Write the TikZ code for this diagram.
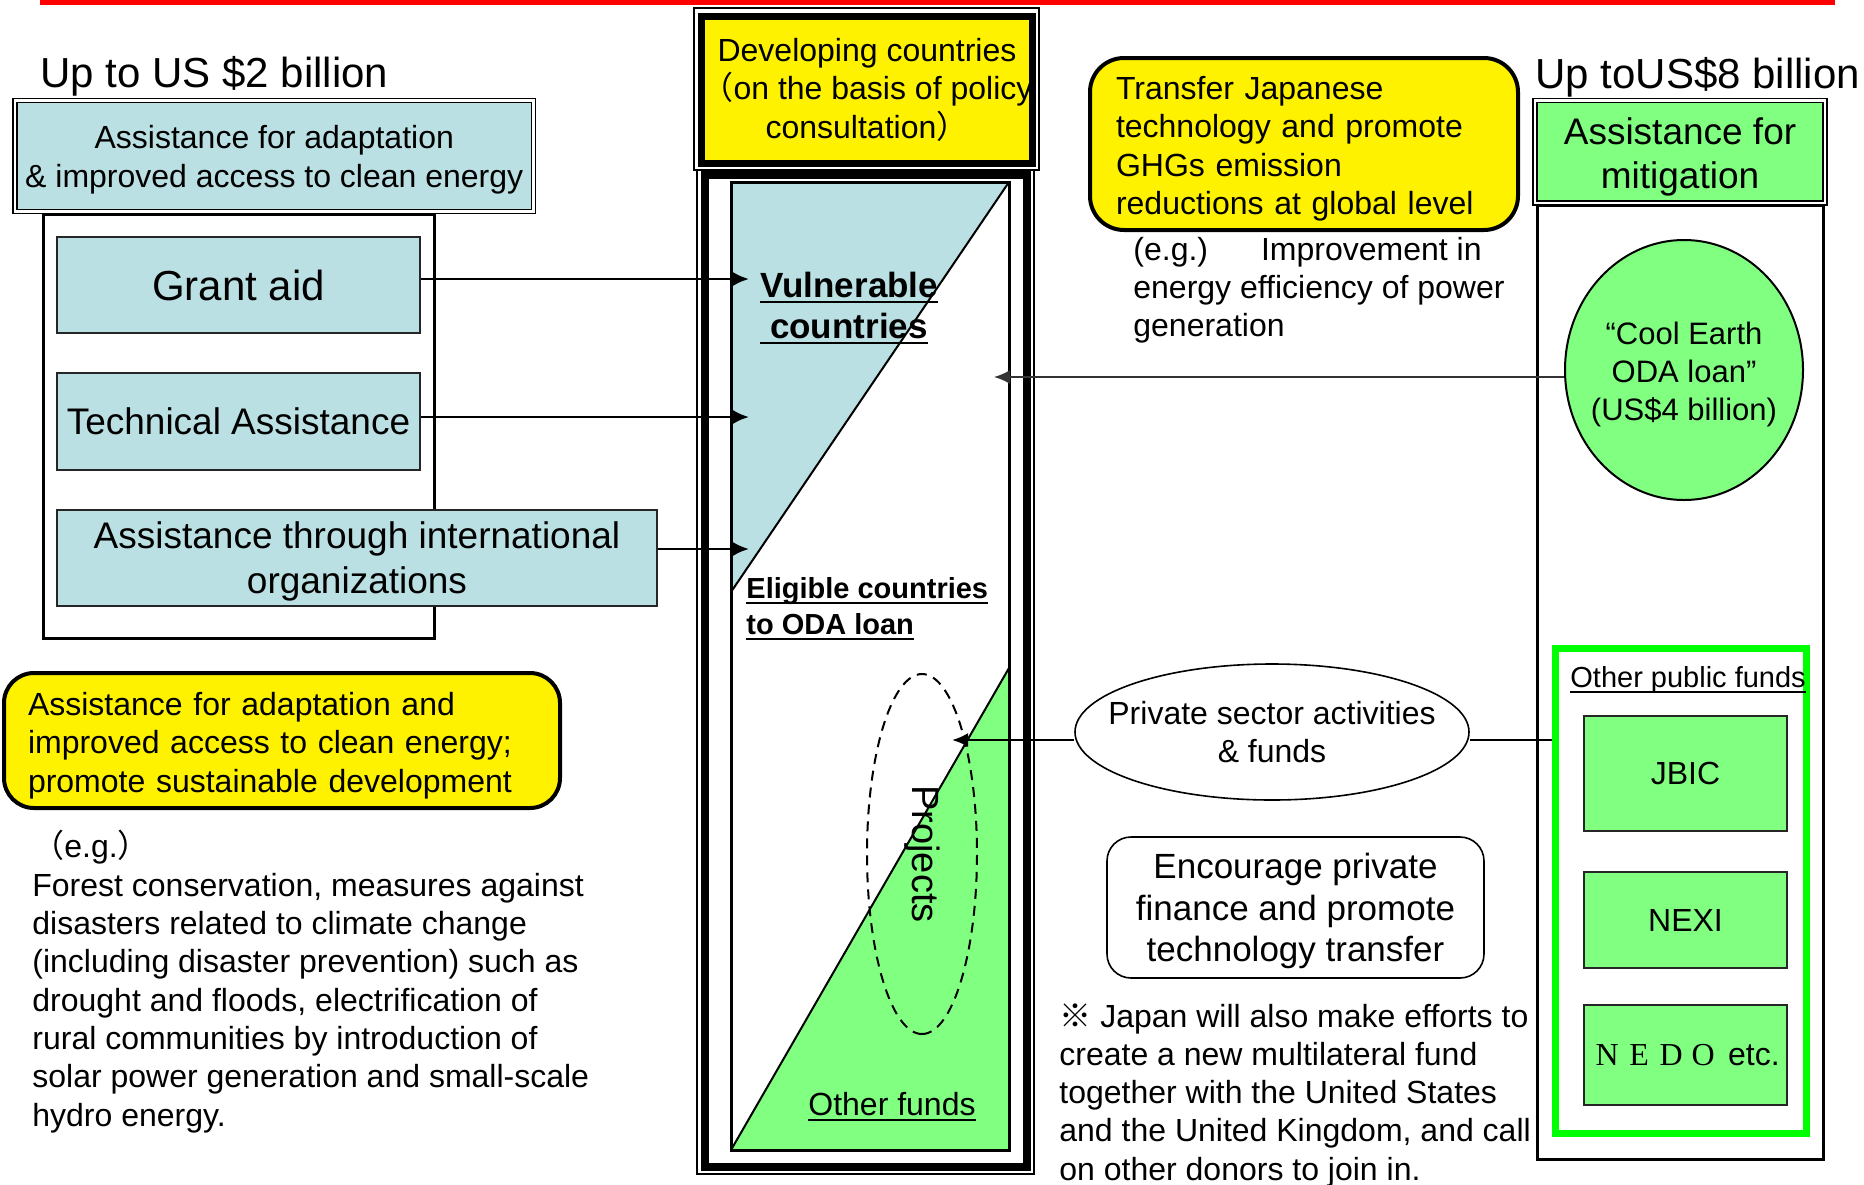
\documentclass[tikz,border=0pt]{standalone}
\usepackage{fontspec}
\setmainfont{Liberation Sans}
\newfontfamily\cjk{Noto Sans CJK JP}
\newfontfamily\nedofont{Liberation Serif}
\usetikzlibrary{shapes.geometric,arrows.meta}

\definecolor{adaptblue}{RGB}{187,224,227}
\definecolor{mitiggreen}{RGB}{128,255,128}
\definecolor{fundgreen}{RGB}{0,255,0}

\newcommand{\fsz}[2]{\fontsize{#1}{#2}\selectfont}
\newcommand{\wideletter}[1]{\makebox[16pt]{\nedofont #1}}
\newcommand{\uln}[1]{\setbox0\hbox{#1}\rlap{\rule[-3pt]{\wd0}{0.9pt}}\box0}
\newcommand{\padtop}[1]{\rule{0pt}{#1}}

\tikzset{
    bluebox/.style={draw=black!85, fill=adaptblue, line width=1pt, inner sep=0pt},
    greenbox/.style={draw=black!85, fill=mitiggreen, line width=1pt, inner sep=0pt},
    headbox/.style={draw=black, line width=0.8pt, double=white, double distance=1.2pt, inner sep=0pt},
    boxframe/.style={draw, line width=1.5pt, inner sep=0pt},
    notebox/.style={draw, fill=yellow, line width=2pt, rounded corners=15pt, inner sep=0pt, align=left},
    textonly/.style={inner sep=0pt, align=left},
    arr/.style={line width=1.2pt, -{Latex[length=8pt,width=7pt]}},
}

\begin{document}
\begin{tikzpicture}[x=0.5pt, y=-0.5pt, font=\fsz{16}{19.25}]
    \useasboundingbox (0,0) rectangle (1864,1184);
    \draw[red, line width=2.5pt] (40,2.5) -- (1835,2.5);

    \node[boxframe, minimum width=195.5pt, minimum height=212pt] (adaptFrame) at (238.5,426) {};
    \node[headbox, fill=adaptblue, minimum width=259.25pt, minimum height=55.5pt, align=center] (adaptHead) at (274.25,156) {\padtop{15.3pt}Assistance for adaptation\\\& improved access to clean energy};
    \node[anchor=base west, inner sep=0pt, font=\fsz{21}{25}] (adaptTitle) at (40,87) {Up to US \$2 billion};
    \node[bluebox, minimum width=181.5pt, minimum height=48pt, font=\fsz{21}{25}] (grant) at (238.5,285) {Grant aid};
    \node[bluebox, minimum width=181.5pt, minimum height=48.5pt, font=\fsz{18.5}{22}] (techAssist) at (238.5,421.5) {Technical Assistance};
    \node[bluebox, minimum width=300pt, minimum height=48pt, align=center, font=\fsz{18.5}{22.5}] (intlOrg) at (357,558) {\padtop{17.1pt}Assistance through international\\organizations};

    \node[notebox, minimum width=278pt, minimum height=67.5pt, text width=254pt] (adaptNote) at (282,740.5) {\padtop{16.5pt}Assistance for adaptation and\\improved access to clean energy;\\promote sustainable development};
    \node[anchor=base west, textonly, font=\fsz{16}{19.15}] (adaptExample) at (32,1126) {{\cjk （}e.g.{\cjk ）}\\Forest conservation, measures against\\disasters related to climate change\\(including disaster prevention) such as\\drought and floods, electrification of\\rural communities by introduction of\\solar power generation and small-scale\\hydro energy.};

    \node[draw, line width=0.6pt, minimum width=168.5pt, minimum height=502pt, inner sep=0pt] (colRim) at (865.5,672) {};
    \node[draw, line width=4pt, minimum width=161.25pt, minimum height=496pt, inner sep=0pt] (colFrame) at (865.75,671) {};
    \fill[adaptblue] (731,182) -- (1009,182) -- (731,592) -- cycle;
    \fill[mitiggreen] (1009,668) -- (1009,1150) -- (731,1150) -- cycle;
    \draw[line width=1pt] (1009,182) -- (731,592);
    \draw[line width=1pt] (1009,668) -- (731,1150);
    \node[draw, line width=1.5pt, minimum width=139pt, minimum height=484pt, inner sep=0pt] (eligible) at (870,666) {};

    \node[draw, line width=0.6pt, minimum width=172.5pt, minimum height=81pt, inner sep=0pt] (devRim) at (866.5,89) {};
    \node[draw, fill=yellow, line width=3.5pt, minimum width=165.25pt, minimum height=73.5pt, inner sep=0pt] (devBox) at (867,89.5) {};
    \node[inner sep=0pt, align=center] (devText) at (867,89.5) {Developing countries\\{\cjk （}on the basis of policy\\consultation{\cjk ）}};

    \node[anchor=base west, textonly, font=\bfseries\fsz{17.5}{20.5}] (vulnText) at (760,338) {\uln{Vulnerable}\\\uln{\ countries}};
    \node[anchor=base west, textonly, font=\bfseries\fsz{14.5}{18}] (eligText) at (746,634) {\uln{Eligible countries}\\\uln{to ODA loan}};
    \node[anchor=base west, textonly] (otherFunds) at (808,1115) {\uln{Other funds}};
    \node[draw, dash pattern=on 5pt off 3.5pt, line width=1pt, ellipse, rotate=-90, minimum width=180pt, minimum height=55pt, inner sep=0pt, font=\fsz{19}{22}] (projects) at (922,854) {Projects};

    \node[notebox, minimum width=214pt, minimum height=86pt, text width=188pt, rounded corners=17pt] (transfer) at (1304,144) {\padtop{16.5pt}Transfer Japanese\\technology and promote\\GHGs emission\\reductions at global level};
    \node[anchor=base west, textonly, font=\fsz{16}{19}] (mitigExample) at (1133,336) {(e.g.)\hspace{26.5pt}Improvement in\\energy efficiency of power\\generation};

    \node[ellipse, draw, line width=0.8pt, minimum width=197pt, minimum height=68pt, inner sep=0pt] (private) at (1272,732) {};
    \node[inner sep=0pt, align=center] (privText) at (private.center) {Private sector activities\\\& funds};
    \node[draw, rounded corners=12pt, line width=0.8pt, minimum width=188.5pt, minimum height=70.5pt, inner sep=0pt, align=center, font=\fsz{17.5}{20.75}] (encourage) at (1295.5,907.5) {\padtop{16.4pt}Encourage private\\finance and promote\\technology transfer};
    \node[anchor=base west, textonly, font=\fsz{16}{19.1}] (jointFund) at (1059,1180) {{\cjk ※} Japan will also make efforts to\\create a new multilateral fund\\together with the United States\\and the United Kingdom, and call\\on other donors to join in.};

    \node[boxframe, minimum width=143pt, minimum height=477pt] (mitigFrame) at (1680,682) {};
    \node[headbox, fill=mitiggreen, minimum width=145pt, minimum height=51.25pt, align=center, font=\fsz{18.5}{22}] (mitigHead) at (1680,151.75) {\padtop{18.3pt}Assistance for\\mitigation};
    \node[anchor=base west, inner sep=0pt, font=\fsz{21}{25}] (mitigTitle) at (1535,88) {Up toUS\$8 billion};
    \node[ellipse, draw, fill=mitiggreen, line width=1pt, minimum width=119pt, minimum height=130pt, inner sep=0pt] (coolEarth) at (1684,370) {};
    \node[inner sep=0pt, align=center, font=\fsz{15.5}{19}, yshift=-2pt] (coolText) at (coolEarth.center) {“Cool Earth\\ODA loan”\\(US\$4 billion)};

    \node[draw=fundgreen, line width=3.5pt, minimum width=125.5pt, minimum height=242.5pt, inner sep=0pt] (pubFunds) at (1681,891) {};
    \node[anchor=base west, inner sep=0pt, font=\fsz{14.5}{17}] (pubTitle) at (1570,687) {\uln{Other public funds}};
    \node[greenbox, minimum width=101.5pt, minimum height=57.5pt] (jbic) at (1685.5,773.5) {JBIC};
    \node[greenbox, minimum width=101.5pt, minimum height=48pt] (nexi) at (1685.5,920) {NEXI};
    \node[greenbox, minimum width=101.5pt, minimum height=50pt] (nedo) at (1685.5,1055) {\wideletter{N}\wideletter{E}\wideletter{D}\wideletter{O} etc.};

    \coordinate (grantTip) at (749,279);
    \coordinate (techTip) at (749,417);
    \coordinate (intlTip) at (749,549);
    \coordinate (coolTip) at (994,377);
    \coordinate (privTip) at (952,740);
    \draw[arr] (grant.east |- grantTip) -- (grantTip);
    \draw[arr] (techAssist.east |- techTip) -- (techTip);
    \draw[arr] (intlOrg.east |- intlTip) -- (intlTip);
    \draw[arr, line width=1pt, black!80] (coolEarth.west |- coolTip) -- (coolTip);
    \draw[arr] (private.west |- privTip) -- (privTip);
    \draw[line width=1.2pt] (pubFunds.west |- privTip) -- (private.east |- privTip);
\end{tikzpicture}
\end{document}
